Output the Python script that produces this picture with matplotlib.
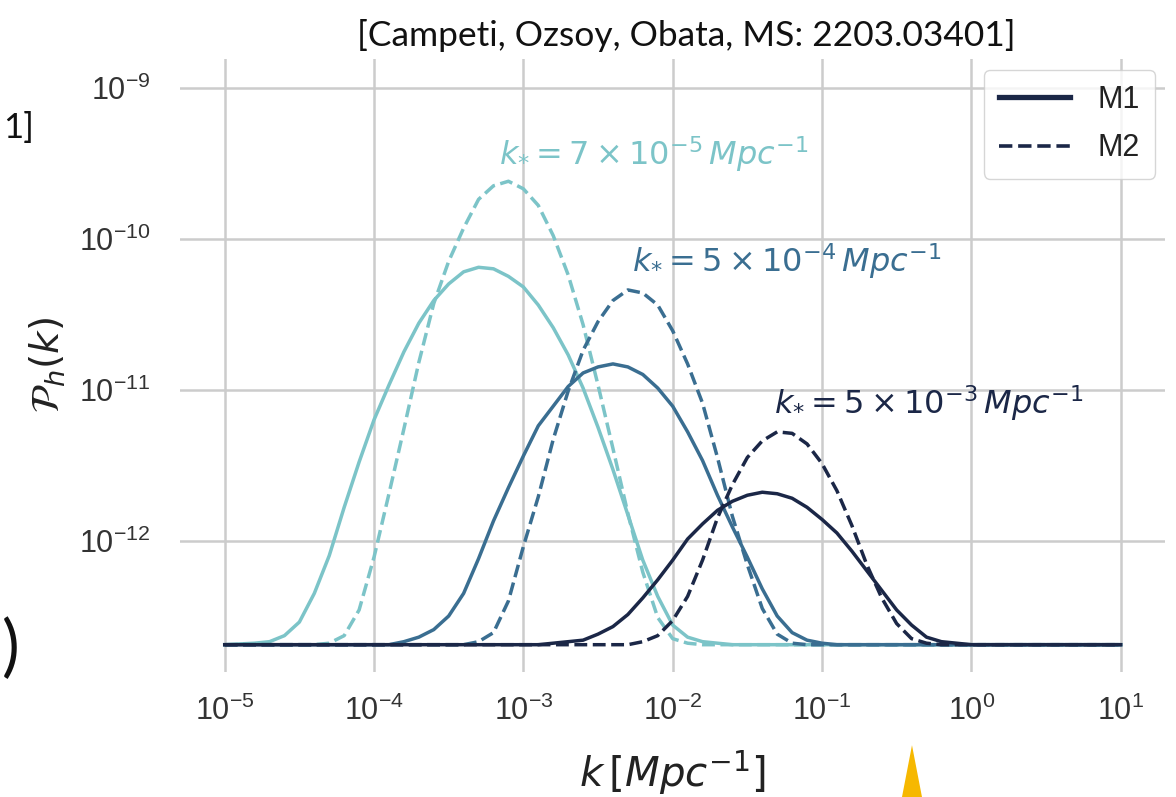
import numpy as np
import matplotlib.pyplot as plt
from matplotlib.lines import Line2D
from matplotlib.patches import Polygon

plt.rcParams['font.family'] = ['Liberation Sans', 'DejaVu Sans']
plt.rcParams['mathtext.fontset'] = 'dejavusans'

# tensor power spectrum P_h(k): log10(k / Mpc^-1) and log10(P_h)
# k* = 7e-5 Mpc^-1
lk_7e5_m1 = [-5.0, -4.8, -4.7, -4.6, -4.5, -4.4, -4.3, -4.2, -4.1, -4.0, -3.9, -3.8, -3.7, -3.6, -3.5,
             -3.4, -3.3, -3.2, -3.1, -3.0, -2.9, -2.8, -2.7, -2.6, -2.5, -2.4, -2.3, -2.2, -2.1, -2.0,
             -1.9, -1.8, -1.7, -1.6, 1.0]
lp_7e5_m1 = [-12.69, -12.68, -12.67, -12.63, -12.54, -12.35, -12.10, -11.78, -11.48, -11.20, -10.97, -10.75,
             -10.56, -10.41, -10.30, -10.22, -10.19, -10.20, -10.25, -10.32, -10.44, -10.59, -10.77, -10.99,
             -11.25, -11.53, -11.83, -12.13, -12.37, -12.56, -12.64, -12.67, -12.68, -12.69, -12.69]
lk_7e5_m2 = [-5.0, -4.4, -4.3, -4.2, -4.1, -4.0, -3.9, -3.8, -3.7, -3.6, -3.5, -3.4, -3.3, -3.2, -3.1,
             -3.0, -2.9, -2.8, -2.7, -2.6, -2.5, -2.4, -2.3, -2.2, -2.1, -2.0, -1.9, -1.8, 1.0]
lp_7e5_m2 = [-12.69, -12.69, -12.68, -12.63, -12.46, -12.11, -11.69, -11.26, -10.82, -10.43, -10.15, -9.93,
             -9.74, -9.65, -9.62, -9.67, -9.78, -9.98, -10.24, -10.57, -10.97, -11.39, -11.82, -12.21,
             -12.51, -12.65, -12.68, -12.69, -12.69]

# k* = 5e-4 Mpc^-1
lk_5e4_m1 = [-5.0, -3.9, -3.8, -3.7, -3.6, -3.5, -3.4, -3.3, -3.2, -3.1, -3.0, -2.9, -2.8, -2.7, -2.6,
             -2.5, -2.4, -2.3, -2.2, -2.1, -2.0, -1.9, -1.8, -1.7, -1.6, -1.5, -1.4, -1.3, -1.2, -1.1,
             -1.0, -0.9, 1.0]
lp_5e4_m1 = [-12.69, -12.69, -12.67, -12.64, -12.59, -12.50, -12.35, -12.12, -11.87, -11.65, -11.44, -11.24,
             -11.11, -10.98, -10.89, -10.85, -10.83, -10.85, -10.90, -10.99, -11.11, -11.28, -11.47, -11.70,
             -11.91, -12.11, -12.32, -12.50, -12.61, -12.66, -12.68, -12.69, -12.69]
lk_5e4_m2 = [-5.0, -3.4, -3.3, -3.2, -3.1, -3.0, -2.9, -2.8, -2.7, -2.6, -2.5, -2.4, -2.3, -2.2, -2.1,
             -2.0, -1.9, -1.8, -1.7, -1.6, -1.5, -1.4, -1.3, -1.2, -1.1, 1.0]
lp_5e4_m2 = [-12.69, -12.69, -12.67, -12.61, -12.40, -12.04, -11.71, -11.33, -11.01, -10.74, -10.55, -10.41,
             -10.34, -10.36, -10.44, -10.61, -10.83, -11.09, -11.45, -11.84, -12.16, -12.45, -12.62, -12.68,
             -12.69, -12.69]

# k* = 5e-3 Mpc^-1
lk_5e3_m1 = [-5.0, -2.9, -2.8, -2.7, -2.6, -2.5, -2.4, -2.3, -2.2, -2.1, -2.0, -1.9, -1.8, -1.7, -1.6,
             -1.5, -1.4, -1.3, -1.2, -1.1, -1.0, -0.9, -0.8, -0.7, -0.6, -0.5, -0.4, -0.3, -0.2, -0.1,
             0.0, 1.0]
lp_5e3_m1 = [-12.69, -12.69, -12.68, -12.67, -12.66, -12.62, -12.57, -12.49, -12.38, -12.26, -12.13, -11.99,
             -11.89, -11.80, -11.74, -11.70, -11.68, -11.69, -11.72, -11.78, -11.86, -11.95, -12.07, -12.20,
             -12.33, -12.46, -12.56, -12.64, -12.67, -12.68, -12.69, -12.69]
lk_5e3_m2 = [-5.0, -2.4, -2.3, -2.2, -2.1, -2.0, -1.9, -1.8, -1.7, -1.6, -1.5, -1.4, -1.3, -1.2, -1.1,
             -1.0, -0.9, -0.8, -0.7, -0.6, -0.5, -0.4, -0.3, -0.2, 1.0]
lp_5e3_m2 = [-12.69, -12.69, -12.69, -12.67, -12.63, -12.53, -12.37, -12.13, -11.85, -11.63, -11.45, -11.34,
             -11.28, -11.29, -11.36, -11.49, -11.67, -11.90, -12.16, -12.38, -12.55, -12.65, -12.68, -12.69,
             -12.69]

kstar_labels = [r'$k_{*} = 7\times10^{-5}\,Mpc^{-1}$',
                r'$k_{*} = 5\times10^{-4}\,Mpc^{-1}$',
                r'$k_{*} = 5\times10^{-3}\,Mpc^{-1}$']
colors = ['#7cc4c8', '#3a6e91', '#1b2747']

fig = plt.figure(figsize=(11.76, 7.97), dpi=100)
ax = fig.add_axes([0.153, 0.157, 0.838, 0.769])

series = [(lk_7e5_m1, lp_7e5_m1, lk_7e5_m2, lp_7e5_m2),
          (lk_5e4_m1, lp_5e4_m1, lk_5e4_m2, lp_5e4_m2),
          (lk_5e3_m1, lp_5e3_m1, lk_5e3_m2, lp_5e3_m2)]
for (k1, p1, k2, p2), c in zip(series, colors):
    ax.plot(10 ** np.array(k1), 10 ** np.array(p1), color=c, lw=2.5, ls='-')
    ax.plot(10 ** np.array(k2), 10 ** np.array(p2), color=c, lw=2.5, ls='--')

ax.set_xscale('log')
ax.set_yscale('log')
ax.set_xlim(10 ** -5.3, 10 ** 1.3)
ax.set_ylim(10 ** -12.87, 10 ** -8.81)
ax.set_xticks([1e-5, 1e-4, 1e-3, 1e-2, 1e-1, 1e0, 1e1])
ax.set_yticks([1e-12, 1e-11, 1e-10, 1e-9])
ax.minorticks_off()
ax.grid(True, color='#cccccc', lw=1.8)
ax.set_axisbelow(True)
for s in ax.spines.values():
    s.set_visible(False)
ax.tick_params(axis='both', length=0, labelsize=22, labelcolor='#333333')
ax.tick_params(axis='x', pad=17)
ax.tick_params(axis='y', pad=21)

# labels next to each bump
label_pos = [(10 ** -3.16, 10 ** -9.44), (10 ** -2.27, 10 ** -10.15), (10 ** -1.32, 10 ** -11.09)]
for (x, y), txt, c in zip(label_pos, kstar_labels, colors):
    ax.text(x, y, txt, color=c, fontsize=23, ha='left', va='center')

ax.set_xlabel(r'$k\,[Mpc^{-1}]$', fontsize=29, color='#222222', labelpad=16)
ax.set_ylabel(r'$\mathcal{P}_h(k)$', fontsize=28, color='#222222', labelpad=8)

handles = [Line2D([], [], color=colors[2], lw=3.8, ls='-'),
           Line2D([], [], color=colors[2], lw=2.6, ls='--')]
leg = ax.legend(handles, ['M1', 'M2'], loc='upper right', fontsize=22,
                frameon=True, fancybox=True, edgecolor='#cccccc',
                handlelength=2.3, handletextpad=0.9, labelspacing=0.6,
                borderaxespad=0.35, borderpad=0.5)
for t in leg.get_texts():
    t.set_color('#222222')

fig.text(0.584, 0.956, '[Campeti, Ozsoy, Obata, MS: 2203.03401]', family='Lato',
         fontsize=25.5, ha='center', va='center', color='#111111')
fig.text(0.029, 0.840, '1]', family='Lato', fontsize=25, ha='right', va='center', color='#111111')
fig.text(0.017, 0.185, ')', family='Lato', fontsize=48, ha='right', va='center', color='#111111')
fig.patches.append(Polygon([[0.767, 0.0], [0.7755, 0.065], [0.784, 0.0]], closed=True,
                           transform=fig.transFigure, facecolor='#f6b800', edgecolor='none'))

fig.savefig('out.png', dpi=100, facecolor='white')
